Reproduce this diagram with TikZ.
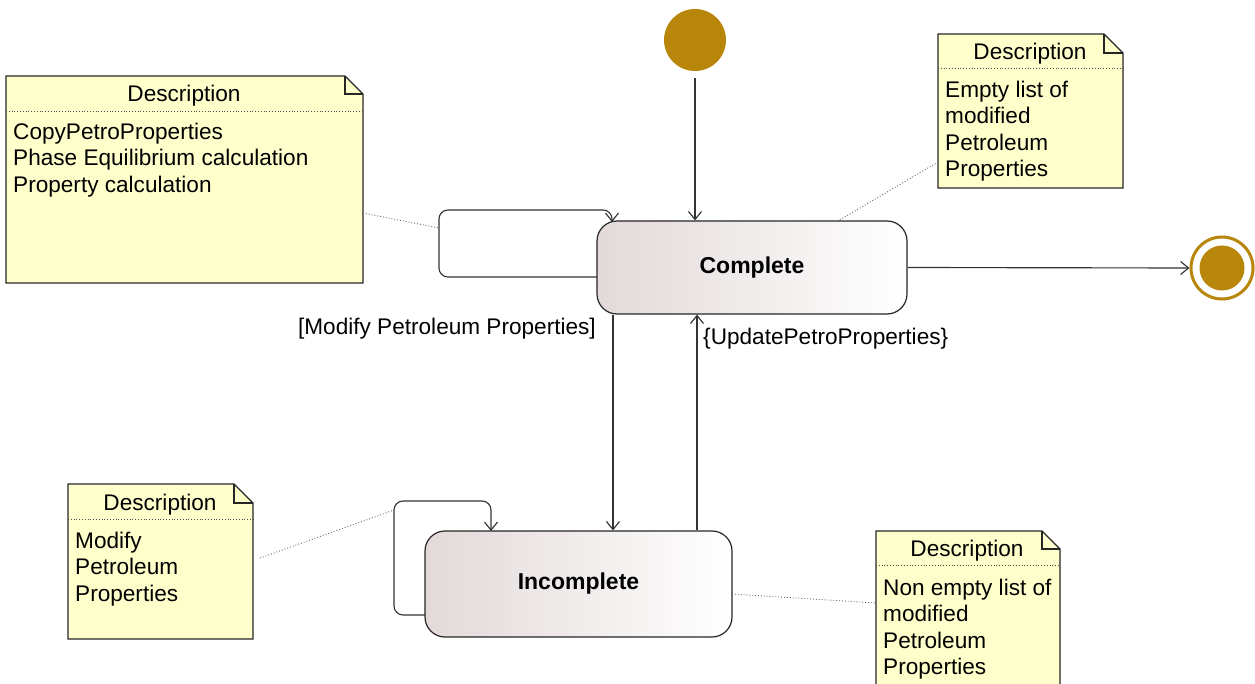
\documentclass[tikz,border=0pt]{standalone}
\usepackage{fontspec}
\setmainfont{Liberation Sans}
\usetikzlibrary{arrows.meta}
\definecolor{notefill}{HTML}{FFFFCC}
\definecolor{gold}{HTML}{B8860B}
\definecolor{stateleft}{HTML}{E3D9D9}
\begin{document}
\begin{tikzpicture}[x=1pt,y=-1pt,
  font=\fontsize{22.6}{26.4}\selectfont,
  state/.style={draw=black!85, line width=1.2pt, rounded corners=20pt,
    left color=stateleft, right color=white, inner sep=0pt,
    font=\fontsize{23}{26}\selectfont\bfseries},
  trans/.style={line width=1.15pt, draw=black!80, -{Straight Barb[length=8pt,width=13pt]}},
  notebox/.style={draw=black!85, line width=1.3pt, fill=notefill, line join=miter},
  notesep/.style={dotted, draw=black!70, line width=0.8pt},
  anchorline/.style={dotted, draw=black!60, line width=0.9pt},
  ntitle/.style={inner sep=0pt, anchor=center},
  ntext/.style={inner sep=0pt, anchor=north west, align=left},
  lbl/.style={inner sep=0pt}]
\useasboundingbox (0,0) rectangle (1255,684);
\clip (0,0) rectangle (1255,684);

% ---------- states ----------
\node[circle, fill=gold, minimum size=62pt, inner sep=0pt] (init) at (695,40) {};
\node[state, minimum width=310pt, minimum height=93pt] (complete) at (752,267.5) {\raisebox{-2pt}{Complete}};
\node[state, minimum width=307pt, minimum height=106pt] (incomplete) at (578.5,584) {\raisebox{-2pt}{Incomplete}};
\node[circle, draw=gold, line width=3pt, fill=white, minimum size=62pt, inner sep=0pt] (final) at (1222,268) {};
\node[circle, fill=gold, minimum size=45pt, inner sep=0pt] (finalin) at (final) {};

% ---------- transitions ----------
\draw[trans, shorten <=7pt] (init.south) -- (init.south |- complete.north);
\draw[trans] (complete.east) -- (final.west);
\draw[trans] ([xshift=-139pt]complete.south) -- ([xshift=-139pt]complete.south |- incomplete.north);
\draw[trans] ([xshift=-55pt]complete.south |- incomplete.north) -- ([xshift=-55pt]complete.south);
\node[lbl, anchor=east] (lmod) at (596,329) {[Modify Petroleum Properties]};
\node[lbl, anchor=west] (lupd) at (703,339) {\{UpdatePetroProperties\}};

% self loops
\coordinate (l1s) at (597,277);
\coordinate (l1e) at (612,222);
\draw[trans, rounded corners=9pt] (l1s) -| (439,210) -| (l1e);
\coordinate (l2s) at (425,615);
\coordinate (l2e) at (491,531);
\draw[trans, rounded corners=9pt] (l2s) -| (394,501) -| (l2e);

% ---------- notes ----------
% note 1
\draw[notebox] (6,76) -- (345,76) -- (363,94) -- (363,283) -- (6,283) -- cycle;
\draw[line width=1.1pt, draw=black!85] (345,76) -- (345,94) -- (363,94);
\draw[notesep] (6,111) -- (363,111);
\node[ntitle] (n1t) at (184,96) {Description};
\node[ntext] (n1b) at (13,123) {CopyPetroProperties\\Phase Equilibrium calculation\\Property calculation};
% note 2
\draw[notebox] (938,34) -- (1104,34) -- (1123,53) -- (1123,188) -- (938,188) -- cycle;
\draw[line width=1.1pt, draw=black!85] (1104,34) -- (1104,53) -- (1123,53);
\draw[notesep] (938,68) -- (1123,68);
\node[ntitle] (n2t) at (1030,54) {Description};
\node[ntext] (n2b) at (945,81) {Empty list of\\modified\\Petroleum\\Properties};
% note 3
\draw[notebox] (68,484) -- (234,484) -- (253,503) -- (253,639) -- (68,639) -- cycle;
\draw[line width=1.1pt, draw=black!85] (234,484) -- (234,503) -- (253,503);
\draw[notesep] (68,519) -- (253,519);
\node[ntitle] (n3t) at (160,505) {Description};
\node[ntext] (n3b) at (75,532) {Modify\\Petroleum\\Properties};
% note 4
\draw[notebox] (876,531) -- (1042,531) -- (1060,549) -- (1060,720) -- (876,720) -- cycle;
\draw[line width=1.1pt, draw=black!85] (1042,531) -- (1042,549) -- (1060,549);
\draw[notesep] (876,565) -- (1060,565);
\node[ntitle] (n4t) at (967,551) {Description};
\node[ntext] (n4b) at (883,579) {Non empty list of\\modified\\Petroleum\\Properties};

% ---------- note anchors ----------
\coordinate (a1n) at (363,213);
\coordinate (a1s) at (439,228);
\draw[anchorline] (a1n) -- (a1s);
\coordinate (a2n) at (938,162);
\coordinate (a2s) at (838,221);
\draw[anchorline] (a2n) -- (a2s);
\coordinate (a3n) at (260,558);
\coordinate (a3s) at (394,510);
\draw[anchorline] (a3n) -- (a3s);
\coordinate (a4n) at (732,594);
\coordinate (a4s) at (876,603);
\draw[anchorline] (a4n) -- (a4s);
\end{tikzpicture}
\end{document}
